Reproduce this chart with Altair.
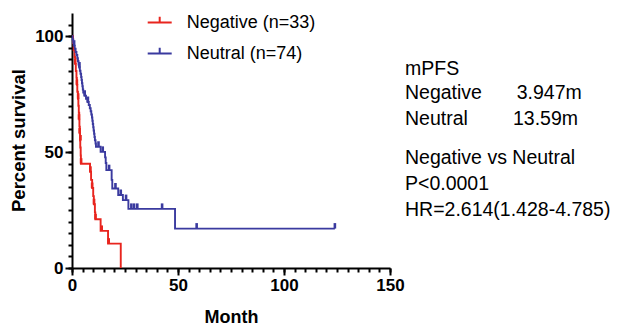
import altair as alt
import pandas as pd

groups = ["Negative (n=33)", "Neutral (n=74)"]
colors = ["#E8251E", "#3A3A9F"]

# Kaplan-Meier step points (month, percent survival)
neg_time = [0, 0.5, 0.8, 1.2, 1.5, 1.8, 2.1, 2.3, 2.5, 2.8, 3.0, 3.2, 3.4, 3.5, 3.7, 3.8, 3.9, 4.1, 4.2,
            8.5, 9.0, 9.5, 10.0, 10.3, 10.8, 11.0, 13.5, 17.0, 23.0]
neg_surv = [100, 97, 94, 91, 88, 85, 82, 79, 76, 73, 70, 67, 64, 61, 58, 55, 52, 48.5, 45,
            41.5, 38, 34.5, 31, 27.5, 24, 21, 16, 10.5, 0]

neu_time = [0, 0.3, 0.6, 0.9, 1.3, 1.7, 2.1, 2.5, 2.8, 3.1, 3.4, 3.7, 4.0, 4.3, 4.5, 4.7, 4.9, 5.1, 5.3,
            5.9, 6.6, 7.3, 7.9, 8.4, 8.8, 9.1, 9.4, 9.6, 9.8, 10.0, 10.2, 10.4, 10.6, 10.8, 11.1, 11.3,
            13.5, 15.6, 15.9, 16.2, 18.7, 19.0, 21.8, 24.0, 26.6, 48.6, 124.0]
neu_surv = [100, 98.6, 97.3, 95.9, 94.6, 93.2, 91.9, 90.5, 89.2, 87.8, 86.5, 85.1, 83.8, 82.4, 81.1, 79.7,
            78.4, 77.0, 75.7, 74.3, 73.0, 71.6, 70.3, 68.9, 67.6, 66.2, 64.9, 63.5, 62.1, 60.7, 59.3, 57.9,
            56.5, 55.1, 53.7, 52.3, 50.1, 47.7, 45.3, 42.2, 38.0, 34.3, 31.5, 29.3, 25.5, 17.0, 17.0]

# censored observations (month, percent survival)
neg_cens_time = [1.5, 2.3, 2.9, 3.3, 3.6, 4.0, 4.3, 8.7, 9.5, 10.4, 11.1, 14.0, 17.3]
neg_cens_surv = [88, 79, 73, 64, 58, 55, 45, 41.5, 34.5, 27.5, 21, 16, 10.5]
neu_cens_time = [1.0, 3.5, 6.0, 7.5, 12.5, 14.5, 17.5, 20.5, 23.0, 25.5, 28.0, 29.3, 30.8, 42.5, 58.8, 124.0]
neu_cens_surv = [95.9, 86.5, 74.3, 71.6, 52.3, 50.1, 42.2, 34.3, 31.5, 29.3, 25.5, 25.5, 25.5, 25.5, 17.0, 17.0]

x_major = [0, 50, 100, 150]
y_major = [0, 50, 100]
x_minor = list(range(0, 155, 5))
y_minor = list(range(0, 110, 5))

stats_labels = ["mPFS", "Negative", "Neutral", "Negative vs Neutral", "P<0.0001", "HR=2.614(1.428-4.785)"]
stats_values = ["3.947m", "13.59m"]

curves = pd.concat([
    pd.DataFrame({"time": neg_time, "surv": neg_surv, "group": groups[0]}),
    pd.DataFrame({"time": neu_time, "surv": neu_surv, "group": groups[1]}),
])
cens = pd.concat([
    pd.DataFrame({"time": neg_cens_time, "surv": neg_cens_surv, "group": groups[0]}),
    pd.DataFrame({"time": neu_cens_time, "surv": neu_cens_surv, "group": groups[1]}),
])

FONT = "Liberation Sans"

major_common = dict(
    tickSize=7, tickWidth=2, domainWidth=2, domainColor="black", tickColor="black", grid=False,
    labelFont=FONT, labelFontSize=17, labelFontWeight="bold", labelColor="black", labelPadding=2,
    labelFlush=False, labelOverlap=False,
    titleFont=FONT, titleFontWeight="bold", titleColor="black", titleAlign="center",
)
minor_common = dict(
    tickSize=4, tickWidth=2, domain=False, tickColor="black", grid=False, labels=False, title=None,
)

xaxis = alt.Axis(values=x_major, orient="bottom", title="Month", titleFontSize=18,
                 titleX=159, titleY=54, titleBaseline="alphabetic", **major_common)
yaxis = alt.Axis(values=y_major, orient="left", title="Percent survival", titleFontSize=18.5,
                 titleX=-54, titleY=127, titleBaseline="middle", titleAngle=270, **major_common)
xaxis_minor = alt.Axis(values=x_minor, orient="bottom", **minor_common)
yaxis_minor = alt.Axis(values=y_minor, orient="left", **minor_common)

xscale = alt.Scale(domain=[0, 150], nice=False)
yscale = alt.Scale(domain=[0, 110], nice=False)

color = alt.Color(
    "group:N",
    scale=alt.Scale(domain=groups, range=colors),
    legend=alt.Legend(
        orient="none", legendX=74.7, legendY=-3.5, title=None, padding=0,
        symbolType="M-1,0H1M0,0V-0.475", symbolSize=576, symbolStrokeWidth=2,
        labelFont=FONT, labelFontSize=18, labelColor="black", labelOffset=14, rowPadding=9,
    ),
)

curve = alt.Chart(curves).mark_line(interpolate="step-after", strokeWidth=1.9).encode(
    x=alt.X("time:Q", scale=xscale, axis=xaxis),
    y=alt.Y("surv:Q", scale=yscale, axis=yaxis),
    color=color,
)
ticks = alt.Chart(cens).mark_rule(strokeWidth=2.6, y2Offset=-5.5).encode(
    x=alt.X("time:Q", scale=xscale, axis=xaxis_minor),
    y=alt.Y("surv:Q", scale=yscale, axis=yaxis_minor),
    y2=alt.Y2("surv"),
    color=alt.Color("group:N", scale=alt.Scale(domain=groups, range=colors), legend=None),
)

one = alt.Data(values=[{}])


def txt(s, x, y):
    return alt.Chart(one).mark_text(
        text=s, font=FONT, fontSize=19.5, align="left", baseline="alphabetic", color="black"
    ).encode(x=alt.value(x), y=alt.value(y))


texts = [
    txt(stats_labels[0], 333, 62),
    txt(stats_labels[1], 333, 86.3),
    txt(stats_values[0], 444.7, 86.3),
    txt(stats_labels[2], 333, 112),
    txt(stats_values[1], 441, 112),
    txt(stats_labels[3], 333, 151.3),
    txt(stats_labels[4], 333, 177),
    txt(stats_labels[5], 333, 202.7),
]

chart = alt.layer(curve, ticks, *texts).resolve_axis(x="independent", y="independent").properties(
    width=318, height=255,
    autosize=alt.AutoSizeParams(type="none"),
    padding={"left": 64, "top": 5, "right": 232, "bottom": 58},
).configure_view(stroke=None)

chart.save("out.html", embed_options={"renderer": "svg", "actions": False})
